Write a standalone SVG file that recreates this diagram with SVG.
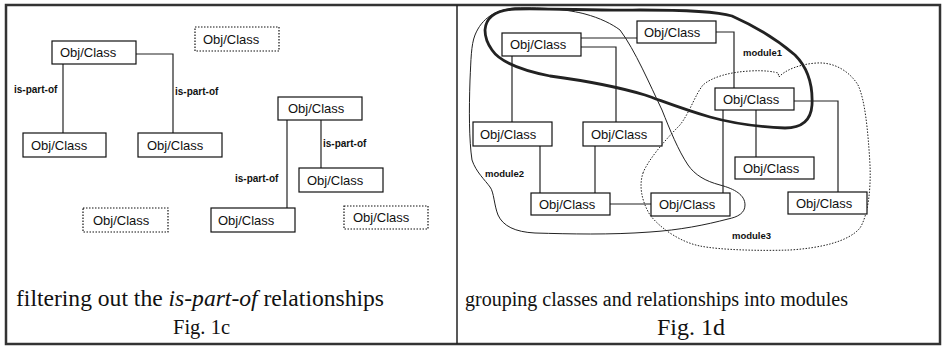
<svg xmlns="http://www.w3.org/2000/svg" width="945" height="348" viewBox="0 0 945 348">
<defs>
<style>
.box{fill:#fff;stroke:#111;stroke-width:1.2}
.dot{fill:#fff;stroke:#111;stroke-width:1.2;stroke-dasharray:1.5 1.5}
.t{font-family:"Liberation Sans",Arial,sans-serif;font-size:13px;fill:#111}
.lbl{font-family:"Liberation Sans",Arial,sans-serif;font-size:10px;font-weight:bold;fill:#111}
.mod{font-family:"Liberation Sans",Arial,sans-serif;font-size:9.5px;font-weight:bold;fill:#111}
.cap{font-family:"Liberation Serif","Times New Roman",serif;fill:#111}
.ln{fill:none;stroke:#222;stroke-width:1.2}
</style>
</defs>
<rect width="945" height="348" fill="#fff"/>
<g id="frame">
<rect x="6" y="5" width="934" height="339" fill="none" stroke="#333" stroke-width="2.5"/>
<line x1="457" y1="5" x2="457" y2="344" stroke="#222" stroke-width="1.5"/>
</g>
<g id="modules">
<path id="module1" d="M 485,30 C 486,16 497,10 515,9 C 550,8 600,11 640,10 C 680,10 715,11 732,16 C 750,24 775,38 795,55 C 808,68 813,85 812,105 C 811,120 802,128 785,128 C 760,127 735,124 710,117 C 685,110 665,102 645,95 C 615,86 580,80 550,76 C 520,70 500,62 492,50 C 487,43 485,37 485,30 Z" fill="none" stroke="#222" stroke-width="2.8"/>
<path id="module2" d="M 475,35 C 482,18 495,10 515,8 C 545,7 570,10 585,14 C 600,18 612,24 620,30 C 635,50 650,85 662,110 C 670,130 678,150 688,165 C 695,175 705,181 720,185 C 735,189 745,195 745,205 C 745,213 738,217 728,219 C 705,225 680,230 650,232 C 610,235 570,234 535,233 C 515,232 503,226 498,215 C 494,205 494,192 490,187 C 485,180 476,172 472,160 C 469,140 469,110 470,80 C 471,60 471,45 475,35 Z" fill="none" stroke="#222" stroke-width="1"/>
<path id="module3" d="M 643,173 C 648,160 665,140 680,125 C 690,112 695,95 703,85 C 712,77 730,72 750,71 C 765,70 775,72 778,73 L 779,77 C 785,70 800,64 817,63 C 835,62 850,72 858,85 C 865,100 868,130 870,165 C 871,190 868,215 860,228 C 848,242 820,248 790,250 C 760,251 720,250 700,246 C 680,242 660,228 650,215 C 641,200 639,185 643,173 Z" fill="none" stroke="#222" stroke-width="1" stroke-dasharray="1.5 1.5"/>
<text class="mod" x="743" y="56">module1</text>
<text class="mod" x="485" y="177">module2</text>
<text class="mod" x="732" y="239">module3</text>
</g>
<g id="connectors">
<line class="ln" x1="63" y1="64" x2="63" y2="133"/>
<polyline class="ln" points="136,54 173,54 173,133"/>
<line class="ln" x1="287" y1="120" x2="287" y2="208"/>
<line class="ln" x1="321" y1="120" x2="321" y2="168"/>
<text class="lbl" x="14" y="93">is-part-of</text>
<text class="lbl" x="175" y="95">is-part-of</text>
<text class="lbl" x="323" y="147">is-part-of</text>
<text class="lbl" x="235" y="182">is-part-of</text>
<line class="ln" x1="581" y1="38" x2="637" y2="38"/>
<polyline class="ln" points="581,47 616,47 616,122"/>
<line class="ln" x1="512" y1="56" x2="512" y2="122"/>
<polyline class="ln" points="716,32 734,32 734,88"/>
<polyline class="ln" points="794,101 838,101 838,192"/>
<line class="ln" x1="723" y1="110" x2="723" y2="193"/>
<line class="ln" x1="756" y1="110" x2="756" y2="157"/>
<line class="ln" x1="540" y1="146" x2="540" y2="193"/>
<line class="ln" x1="595" y1="146" x2="595" y2="193"/>
<line class="ln" x1="610" y1="204" x2="651" y2="204"/>
</g>
<g id="nA"><rect class="box" x="52" y="41" width="84" height="23"/><text class="t" x="60" y="57">Obj/Class</text></g>
<g id="nTopDotted"><rect class="dot" x="195" y="27" width="84" height="24"/><text class="t" x="203" y="44">Obj/Class</text></g>
<g id="nB"><rect class="box" x="23" y="133" width="83" height="24"/><text class="t" x="31" y="150">Obj/Class</text></g>
<g id="nC"><rect class="box" x="138" y="133" width="84" height="24"/><text class="t" x="147" y="150">Obj/Class</text></g>
<g id="nD"><rect class="box" x="278" y="97" width="84" height="23"/><text class="t" x="288" y="113">Obj/Class</text></g>
<g id="nE"><rect class="box" x="299" y="168" width="84" height="24"/><text class="t" x="307" y="185">Obj/Class</text></g>
<g id="nF"><rect class="box" x="211" y="208" width="84" height="24"/><text class="t" x="218" y="225">Obj/Class</text></g>
<g id="nBLDotted"><rect class="dot" x="83" y="208" width="85" height="24"/><text class="t" x="93" y="225">Obj/Class</text></g>
<g id="nBRDotted"><rect class="dot" x="344" y="206" width="84" height="23"/><text class="t" x="353" y="222">Obj/Class</text></g>
<g id="r1"><rect class="box" x="502" y="33" width="79" height="23"/><text class="t" x="510" y="49">Obj/Class</text></g>
<g id="r2"><rect class="box" x="637" y="21" width="79" height="22"/><text class="t" x="644" y="37">Obj/Class</text></g>
<g id="r3"><rect class="box" x="715" y="88" width="79" height="22"/><text class="t" x="723" y="104">Obj/Class</text></g>
<g id="r4"><rect class="box" x="473" y="122" width="79" height="24"/><text class="t" x="480" y="139">Obj/Class</text></g>
<g id="r5"><rect class="box" x="583" y="122" width="79" height="24"/><text class="t" x="591" y="139">Obj/Class</text></g>
<g id="r6"><rect class="box" x="735" y="157" width="79" height="22"/><text class="t" x="743" y="173">Obj/Class</text></g>
<g id="r7"><rect class="box" x="531" y="193" width="79" height="22"/><text class="t" x="539" y="209">Obj/Class</text></g>
<g id="r8"><rect class="box" x="651" y="193" width="79" height="23"/><text class="t" x="659" y="209">Obj/Class</text></g>
<g id="r9"><rect class="box" x="788" y="192" width="79" height="22"/><text class="t" x="796" y="208">Obj/Class</text></g>
<g id="captions">
<text class="cap" x="16" y="306" font-size="23" textLength="368" lengthAdjust="spacingAndGlyphs">filtering out the <tspan font-style="italic">is-part-of</tspan> relationships</text>
<text class="cap" x="173" y="334" font-size="21" textLength="57" lengthAdjust="spacingAndGlyphs">Fig. 1c</text>
<text class="cap" x="465" y="306" font-size="20" textLength="383" lengthAdjust="spacingAndGlyphs">grouping classes and relationships into modules</text>
<text class="cap" x="657" y="335" font-size="23" textLength="68" lengthAdjust="spacingAndGlyphs">Fig. 1d</text>
</g>
</svg>
